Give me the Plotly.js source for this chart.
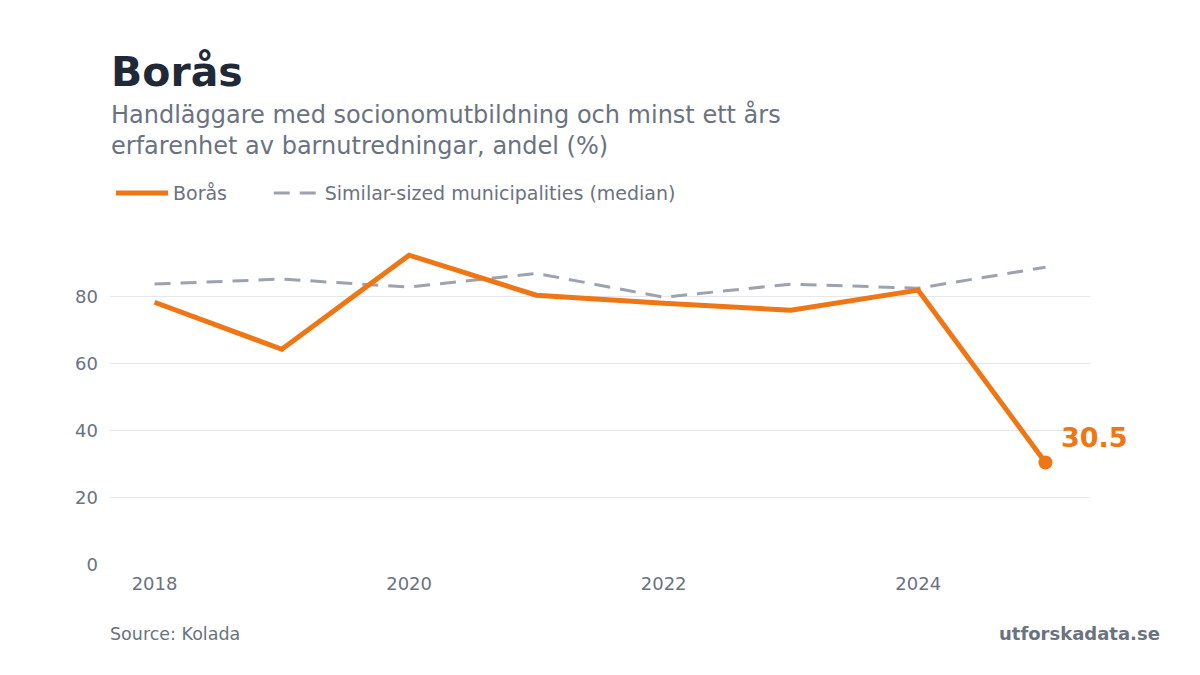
<!DOCTYPE html>
<html>
<head>
<meta charset="utf-8">
<script src="https://cdn.plot.ly/plotly-3.0.1.min.js"></script>
<style>
    html, body { margin: 0; padding: 0; background: #ffffff; }
    #chart { width: 1200px; height: 675px; }
</style>
</head>
<body>
<div id="chart"></div>
<script>
// years on the x axis
const years = [2018, 2019, 2020, 2021, 2022, 2023, 2024, 2025]

// Borås, andel (%)
const borasValues = [78.2, 64.2, 92.2, 80.3, 77.9, 75.8, 81.8, 30.5]

// similar-sized municipalities, median
const medianValues = [83.6, 85.1, 82.7, 86.8, 79.7, 83.6, 82.4, 88.6]

const yTicks = [0, 20, 40, 60, 80]
const xTicks = [2018, 2020, 2022, 2024]

const orange = '#ee7614'
const grey = '#9ca3af'
const textGrey = '#6b7280'
const font = 'DejaVu Sans, sans-serif'

let lastYear = years[years.length - 1]
let lastValue = borasValues[borasValues.length - 1]

let borasTrace = {
    x: years,
    y: borasValues,
    mode: 'lines',
    name: 'Borås',
    legend: 'legend',
    line: {color: orange, width: 5},
    hoverinfo: 'skip'
}

let medianTrace = {
    x: years,
    y: medianValues,
    mode: 'lines',
    name: 'Similar-sized municipalities (median)',
    legend: 'legend2',
    line: {color: grey, width: 3, dash: '16px,10px'},
    hoverinfo: 'skip'
}

// end dot on the last Borås value
let endPoint = {
    x: [lastYear],
    y: [lastValue],
    mode: 'markers',
    showlegend: false,
    marker: {color: orange, size: 14},
    hoverinfo: 'skip'
}

let layout = {
    width: 1200,
    height: 675,
    paper_bgcolor: '#ffffff',
    plot_bgcolor: '#ffffff',
    margin: {l: 110, r: 110, t: 229, b: 110},
    font: {family: font, color: textGrey, size: 16},
    showlegend: true,
    // two legends so the second entry can sit where the reference has it
    legend: {
        orientation: 'h',
        x: 0.001,
        xanchor: 'left',
        y: 1.107,
        yanchor: 'middle',
        font: {family: font, size: 19, color: textGrey},
        itemwidth: 52
    },
    legend2: {
        orientation: 'h',
        x: 0.162,
        xanchor: 'left',
        y: 1.107,
        yanchor: 'middle',
        font: {family: font, size: 19, color: textGrey},
        itemwidth: 46
    },
    xaxis: {
        range: [2017.65, 2025.35],
        tickvals: xTicks,
        ticktext: xTicks.map(String),
        showgrid: false,
        zeroline: false,
        showline: false,
        ticks: '',
        ticklabelstandoff: 6,
        tickfont: {family: font, size: 18, color: textGrey},
        fixedrange: true
    },
    yaxis: {
        range: [0, 100],
        tickvals: yTicks,
        ticktext: yTicks.map(String),
        showgrid: true,
        gridcolor: '#e5e7eb',
        gridwidth: 1,
        zeroline: false,
        showline: false,
        ticks: '',
        ticklabelstandoff: 11,
        tickfont: {family: font, size: 18, color: textGrey},
        fixedrange: true
    },
    annotations: [
        {
            xref: 'paper', yref: 'paper',
            x: -0.001, y: 1.468,
            xanchor: 'left', yanchor: 'middle',
            text: '<b>Borås</b>',
            showarrow: false,
            font: {family: font, size: 41, color: '#1f2937'}
        },
        {
            xref: 'paper', yref: 'paper',
            x: -0.001, y: 1.296,
            xanchor: 'left', yanchor: 'middle',
            align: 'left',
            text: 'Handläggare med socionomutbildning och minst ett års<br>erfarenhet av barnutredningar, andel (%)',
            showarrow: false,
            font: {family: font, size: 24, color: textGrey}
        },
        {
            x: lastYear, y: lastValue,
            xref: 'x', yref: 'y',
            xanchor: 'left', yanchor: 'middle',
            xshift: 14, yshift: 25,
            text: '<b>' + lastValue.toFixed(1) + '</b>',
            showarrow: false,
            font: {family: font, size: 27, color: orange}
        },
        {
            xref: 'paper', yref: 'paper',
            x: 0, y: -0.205,
            xanchor: 'left', yanchor: 'middle',
            xshift: -2,
            text: 'Source: Kolada',
            showarrow: false,
            font: {family: font, size: 17.5, color: textGrey}
        },
        {
            xref: 'paper', yref: 'paper',
            x: 1.0714, y: -0.205,
            xanchor: 'right', yanchor: 'middle',
            xshift: 2,
            text: '<b>utforskadata.se</b>',
            showarrow: false,
            font: {family: font, size: 18, color: textGrey}
        }
    ]
}

Plotly.newPlot('chart', [medianTrace, borasTrace, endPoint], layout, {displayModeBar: false, staticPlot: true})
</script>
</body>
</html>
